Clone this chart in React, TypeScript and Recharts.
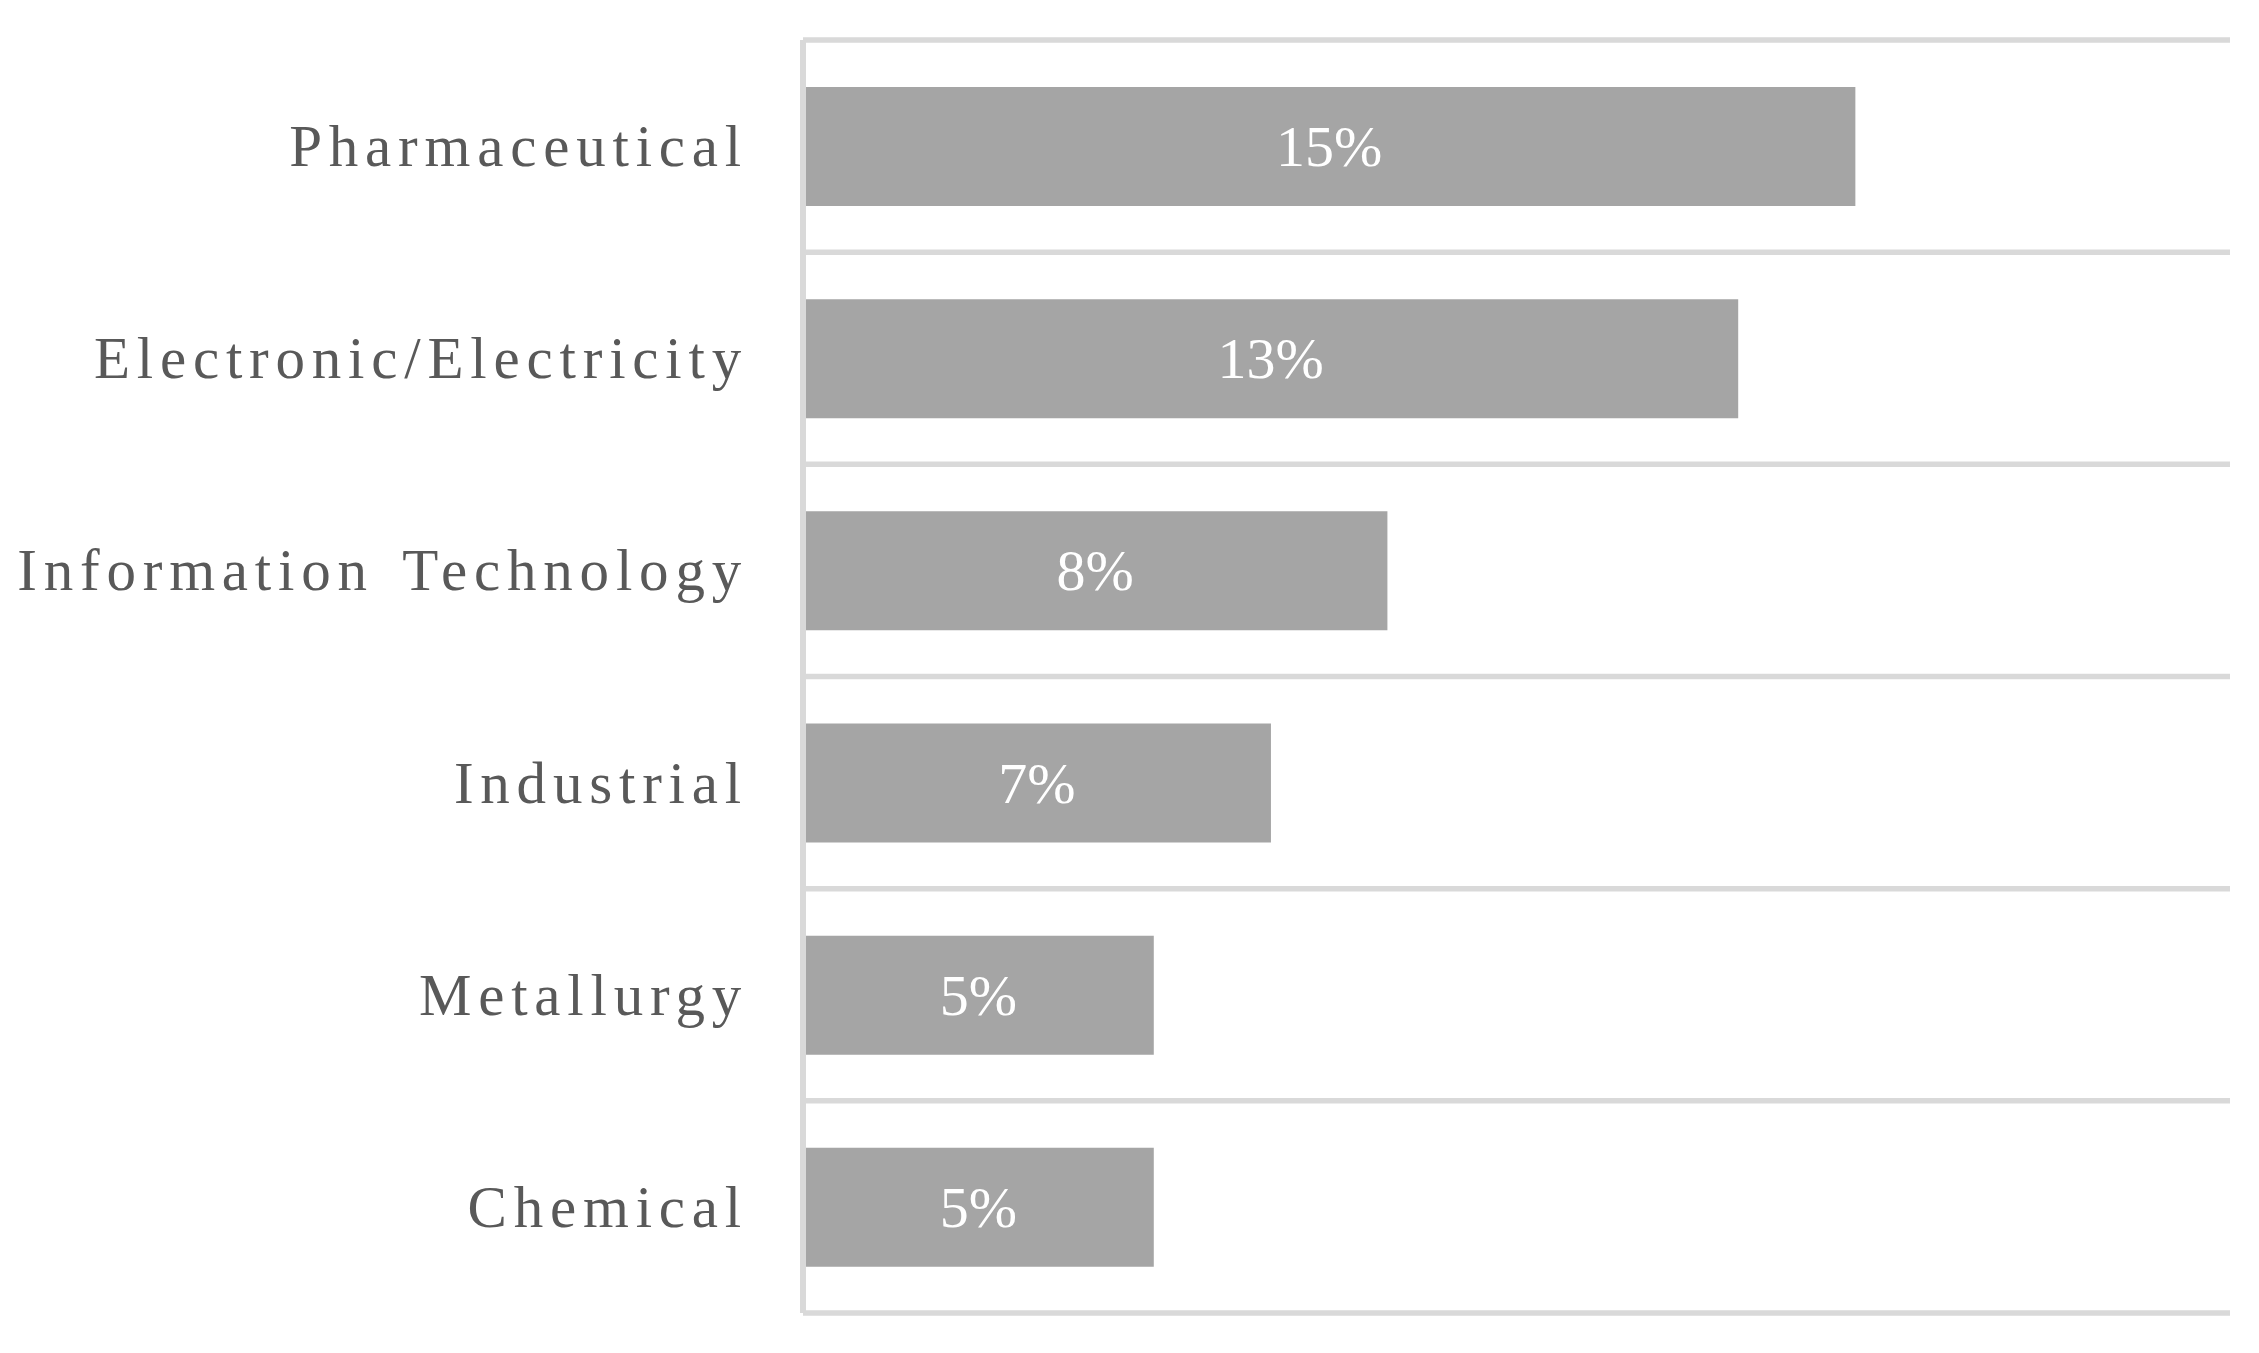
import React from "react";
import {
  BarChart,
  Bar,
  XAxis,
  YAxis,
  CartesianGrid,
  LabelList,
} from "recharts";

const categories = [
  "Pharmaceutical",
  "Electronic/Electricity",
  "Information Technology",
  "Industrial",
  "Metallurgy",
  "Chemical",
];
const shares = [0.15, 0.1333, 0.0833, 0.0667, 0.05, 0.05];

const data = categories.map((name, i) => ({ name, value: shares[i] }));

const FONT = "'Liberation Serif', 'Times New Roman', serif";

function CategoryTick(props: any) {
  const { x, y, payload } = props;
  return (
    <text
      x={x - 55}
      y={y}
      textAnchor="end"
      dominantBaseline="central"
      fill="#595959"
      fontFamily={FONT}
      fontSize={59}
      letterSpacing={6.8}
      wordSpacing={8}
    >
      {payload.value}
    </text>
  );
}

function ValueLabel(props: any) {
  const { x, y, width, height, value } = props;
  return (
    <text
      x={x + width / 2}
      y={y + height / 2}
      textAnchor="middle"
      dominantBaseline="central"
      fill="#ffffff"
      fontFamily={FONT}
      fontSize={58}
    >
      {`${Math.round(Number(value) * 100)}%`}
    </text>
  );
}

// horizontal grid lines sit on the category boundaries, not the centres
const boundaryLines = ({ offset }: any) => {
  const n = categories.length;
  const out: number[] = [];
  for (let i = 0; i <= n; i++) out.push(offset.top + (offset.height * i) / n);
  return out;
};

function App() {
  return (
    <div style={{ position: "absolute", left: 0, top: 0 }}>
      <BarChart
        width={2259}
        height={1353}
        data={data}
        layout="vertical"
        margin={{ top: 40, right: 29, left: 0, bottom: 40 }}
      >
        <CartesianGrid
          vertical={false}
          stroke="#d9d9d9"
          strokeWidth={5.5}
          horizontalCoordinatesGenerator={boundaryLines}
        />
        <XAxis type="number" domain={[0, 0.2034]} hide />
        <YAxis
          type="category"
          dataKey="name"
          width={803}
          tickLine={false}
          tickSize={0}
          tickMargin={0}
          axisLine={{ stroke: "#d9d9d9", strokeWidth: 6 }}
          tick={<CategoryTick />}
          interval={0}
        />
        <Bar dataKey="value" fill="#a5a5a5" barSize={119} isAnimationActive={false}>
          <LabelList dataKey="value" content={<ValueLabel />} />
        </Bar>
      </BarChart>
    </div>
  );
}

export default App;
